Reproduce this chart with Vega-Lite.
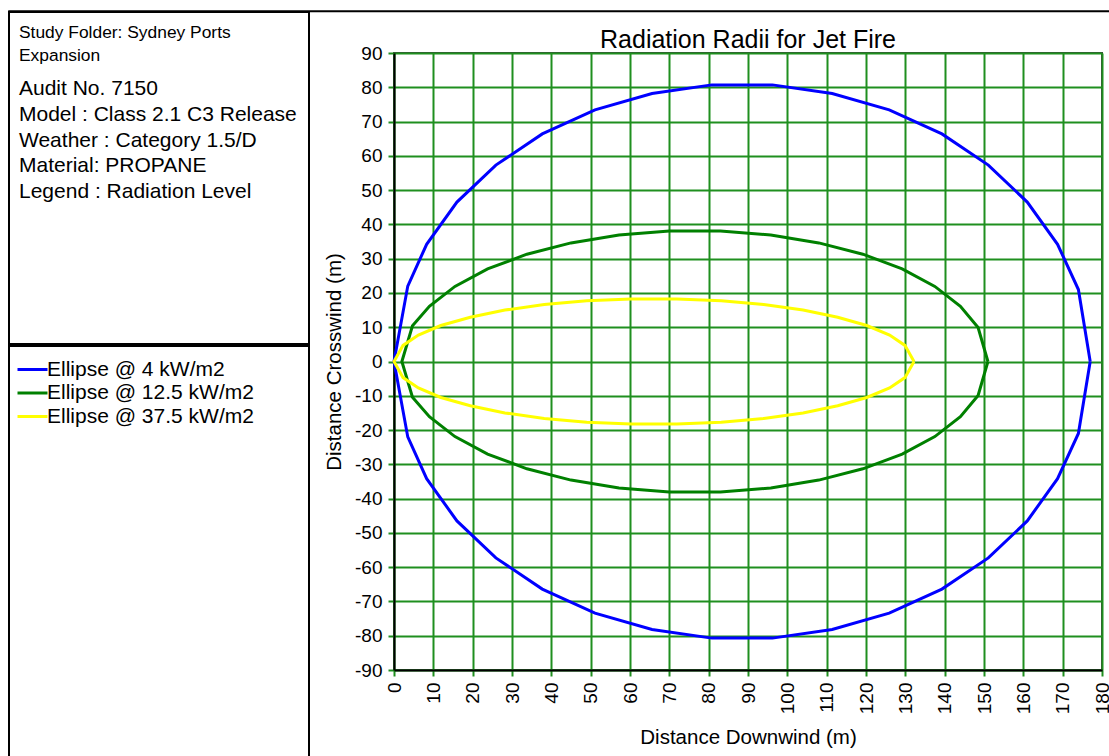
{
  "$schema": "https://vega.github.io/schema/vega-lite/v6.json",
  "padding": {"left": 8, "top": 10, "right": 0, "bottom": 0},
  "background": "white",
  "config": {"font": "Liberation Sans", "view": {"stroke": null}},
  "spacing": 0,
  "bounds": "flush",
  "vconcat": [
    {
      "width": 1101,
      "height": 0.5,
      "view": {"stroke": "black", "strokeWidth": 1.5},
      "data": {"values": []},
      "mark": "point"
    },
    {
      "spacing": 13,
      "hconcat": [
        {
          "spacing": 0,
          "vconcat": [
            {
              "width": 300,
              "height": 332,
              "view": {"stroke": "black", "strokeWidth": 2},
              "layer": [
                {
                  "data": {"values": [
                    {"t": "Study Folder: Sydney Ports", "n": 1},
                    {"t": "Expansion", "n": 2}
                  ]},
                  "mark": {"type": "text", "align": "left", "baseline": "middle", "fontSize": 17.4, "dx": 10, "color": "black"},
                  "encoding": {
                    "x": {"datum": 0, "type": "quantitative", "scale": {"domain": [0, 1]}, "axis": null},
                    "y": {"field": "n", "type": "quantitative", "scale": {"domain": [0.087, 14.52], "reverse": true, "nice": false, "zero": false}, "axis": null},
                    "text": {"field": "t"}
                  }
                },
                {
                  "data": {"values": [
                    {"t": "Audit No. 7150", "n": 1},
                    {"t": "Model : Class 2.1 C3 Release", "n": 2},
                    {"t": "Weather : Category 1.5/D", "n": 3},
                    {"t": "Material: PROPANE", "n": 4},
                    {"t": "Legend : Radiation Level", "n": 5}
                  ]},
                  "mark": {"type": "text", "align": "left", "baseline": "middle", "fontSize": 21, "dx": 10, "color": "black"},
                  "encoding": {
                    "x": {"datum": 0, "type": "quantitative", "scale": {"domain": [0, 1]}, "axis": null},
                    "y": {"field": "n", "type": "quantitative", "scale": {"domain": [-1.99, 10.9], "reverse": true, "nice": false, "zero": false}, "axis": null},
                    "text": {"field": "t"}
                  }
                }
              ],
              "resolve": {"scale": {"y": "independent"}}
            },
            {
              "width": 300,
              "height": 414,
              "view": {"stroke": "black", "strokeWidth": 2},
              "data": {"values": []},
              "mark": "point"
            }
          ]
        },
        {
          "spacing": 0,
          "bounds": "flush",
          "vconcat": [
            {
              "width": 708,
              "height": 41,
              "data": {"values": [{"t": "Radiation Radii for Jet Fire"}]},
              "mark": {"type": "text", "fontSize": 25, "baseline": "middle", "dy": 7, "color": "black"},
              "encoding": {"text": {"field": "t"}}
            },
            {
              "width": 708,
              "height": 617,
              "view": {"stroke": "#404040", "strokeWidth": 2},
              "data": {"values": [
                {"s": "Ellipse @ 4 kW/m2", "i": 0, "x": 177.0, "y": 0},
                {"s": "Ellipse @ 4 kW/m2", "i": 1, "x": 174.0, "y": 21.0},
                {"s": "Ellipse @ 4 kW/m2", "i": 2, "x": 168.7, "y": 34.2},
                {"s": "Ellipse @ 4 kW/m2", "i": 3, "x": 161.0, "y": 46.5},
                {"s": "Ellipse @ 4 kW/m2", "i": 4, "x": 151.1, "y": 57.3},
                {"s": "Ellipse @ 4 kW/m2", "i": 5, "x": 139.3, "y": 66.4},
                {"s": "Ellipse @ 4 kW/m2", "i": 6, "x": 125.9, "y": 73.4},
                {"s": "Ellipse @ 4 kW/m2", "i": 7, "x": 111.4, "y": 78.2},
                {"s": "Ellipse @ 4 kW/m2", "i": 8, "x": 96.2, "y": 80.7},
                {"s": "Ellipse @ 4 kW/m2", "i": 9, "x": 80.8, "y": 80.7},
                {"s": "Ellipse @ 4 kW/m2", "i": 10, "x": 65.6, "y": 78.2},
                {"s": "Ellipse @ 4 kW/m2", "i": 11, "x": 51.1, "y": 73.4},
                {"s": "Ellipse @ 4 kW/m2", "i": 12, "x": 37.7, "y": 66.4},
                {"s": "Ellipse @ 4 kW/m2", "i": 13, "x": 25.9, "y": 57.3},
                {"s": "Ellipse @ 4 kW/m2", "i": 14, "x": 16.0, "y": 46.5},
                {"s": "Ellipse @ 4 kW/m2", "i": 15, "x": 8.3, "y": 34.2},
                {"s": "Ellipse @ 4 kW/m2", "i": 16, "x": 3.5, "y": 22.0},
                {"s": "Ellipse @ 4 kW/m2", "i": 17, "x": 0, "y": 0},
                {"s": "Ellipse @ 4 kW/m2", "i": 18, "x": 3.5, "y": -22.0},
                {"s": "Ellipse @ 4 kW/m2", "i": 19, "x": 8.3, "y": -34.2},
                {"s": "Ellipse @ 4 kW/m2", "i": 20, "x": 16.0, "y": -46.5},
                {"s": "Ellipse @ 4 kW/m2", "i": 21, "x": 25.9, "y": -57.3},
                {"s": "Ellipse @ 4 kW/m2", "i": 22, "x": 37.7, "y": -66.4},
                {"s": "Ellipse @ 4 kW/m2", "i": 23, "x": 51.1, "y": -73.4},
                {"s": "Ellipse @ 4 kW/m2", "i": 24, "x": 65.6, "y": -78.2},
                {"s": "Ellipse @ 4 kW/m2", "i": 25, "x": 80.8, "y": -80.7},
                {"s": "Ellipse @ 4 kW/m2", "i": 26, "x": 96.2, "y": -80.7},
                {"s": "Ellipse @ 4 kW/m2", "i": 27, "x": 111.4, "y": -78.2},
                {"s": "Ellipse @ 4 kW/m2", "i": 28, "x": 125.9, "y": -73.4},
                {"s": "Ellipse @ 4 kW/m2", "i": 29, "x": 139.3, "y": -66.4},
                {"s": "Ellipse @ 4 kW/m2", "i": 30, "x": 151.1, "y": -57.3},
                {"s": "Ellipse @ 4 kW/m2", "i": 31, "x": 161.0, "y": -46.5},
                {"s": "Ellipse @ 4 kW/m2", "i": 32, "x": 168.7, "y": -34.2},
                {"s": "Ellipse @ 4 kW/m2", "i": 33, "x": 174.0, "y": -21.0},
                {"s": "Ellipse @ 4 kW/m2", "i": 34, "x": 177.0, "y": 0},
                {"s": "Ellipse @ 12.5 kW/m2", "i": 0, "x": 151.0, "y": 0},
                {"s": "Ellipse @ 12.5 kW/m2", "i": 1, "x": 148.5, "y": 9.9},
                {"s": "Ellipse @ 12.5 kW/m2", "i": 2, "x": 144.0, "y": 16.1},
                {"s": "Ellipse @ 12.5 kW/m2", "i": 3, "x": 137.5, "y": 21.9},
                {"s": "Ellipse @ 12.5 kW/m2", "i": 4, "x": 129.2, "y": 27.0},
                {"s": "Ellipse @ 12.5 kW/m2", "i": 5, "x": 119.2, "y": 31.3},
                {"s": "Ellipse @ 12.5 kW/m2", "i": 6, "x": 108.0, "y": 34.6},
                {"s": "Ellipse @ 12.5 kW/m2", "i": 7, "x": 95.8, "y": 36.9},
                {"s": "Ellipse @ 12.5 kW/m2", "i": 8, "x": 83.0, "y": 38.1},
                {"s": "Ellipse @ 12.5 kW/m2", "i": 9, "x": 70.0, "y": 38.1},
                {"s": "Ellipse @ 12.5 kW/m2", "i": 10, "x": 57.2, "y": 36.9},
                {"s": "Ellipse @ 12.5 kW/m2", "i": 11, "x": 45.0, "y": 34.6},
                {"s": "Ellipse @ 12.5 kW/m2", "i": 12, "x": 33.8, "y": 31.3},
                {"s": "Ellipse @ 12.5 kW/m2", "i": 13, "x": 23.8, "y": 27.0},
                {"s": "Ellipse @ 12.5 kW/m2", "i": 14, "x": 15.5, "y": 21.9},
                {"s": "Ellipse @ 12.5 kW/m2", "i": 15, "x": 9.0, "y": 16.1},
                {"s": "Ellipse @ 12.5 kW/m2", "i": 16, "x": 4.7, "y": 10.4},
                {"s": "Ellipse @ 12.5 kW/m2", "i": 17, "x": 2.0, "y": 0},
                {"s": "Ellipse @ 12.5 kW/m2", "i": 18, "x": 4.7, "y": -10.4},
                {"s": "Ellipse @ 12.5 kW/m2", "i": 19, "x": 9.0, "y": -16.1},
                {"s": "Ellipse @ 12.5 kW/m2", "i": 20, "x": 15.5, "y": -21.9},
                {"s": "Ellipse @ 12.5 kW/m2", "i": 21, "x": 23.8, "y": -27.0},
                {"s": "Ellipse @ 12.5 kW/m2", "i": 22, "x": 33.8, "y": -31.3},
                {"s": "Ellipse @ 12.5 kW/m2", "i": 23, "x": 45.0, "y": -34.6},
                {"s": "Ellipse @ 12.5 kW/m2", "i": 24, "x": 57.2, "y": -36.9},
                {"s": "Ellipse @ 12.5 kW/m2", "i": 25, "x": 70.0, "y": -38.1},
                {"s": "Ellipse @ 12.5 kW/m2", "i": 26, "x": 83.0, "y": -38.1},
                {"s": "Ellipse @ 12.5 kW/m2", "i": 27, "x": 95.8, "y": -36.9},
                {"s": "Ellipse @ 12.5 kW/m2", "i": 28, "x": 108.0, "y": -34.6},
                {"s": "Ellipse @ 12.5 kW/m2", "i": 29, "x": 119.2, "y": -31.3},
                {"s": "Ellipse @ 12.5 kW/m2", "i": 30, "x": 129.2, "y": -27.0},
                {"s": "Ellipse @ 12.5 kW/m2", "i": 31, "x": 137.5, "y": -21.9},
                {"s": "Ellipse @ 12.5 kW/m2", "i": 32, "x": 144.0, "y": -16.1},
                {"s": "Ellipse @ 12.5 kW/m2", "i": 33, "x": 148.5, "y": -9.9},
                {"s": "Ellipse @ 12.5 kW/m2", "i": 34, "x": 151.0, "y": 0},
                {"s": "Ellipse @ 37.5 kW/m2", "i": 0, "x": 132.2, "y": 0},
                {"s": "Ellipse @ 37.5 kW/m2", "i": 1, "x": 129.9, "y": 4.7},
                {"s": "Ellipse @ 37.5 kW/m2", "i": 2, "x": 126.0, "y": 7.7},
                {"s": "Ellipse @ 37.5 kW/m2", "i": 3, "x": 120.2, "y": 10.5},
                {"s": "Ellipse @ 37.5 kW/m2", "i": 4, "x": 112.8, "y": 12.9},
                {"s": "Ellipse @ 37.5 kW/m2", "i": 5, "x": 104.0, "y": 15.0},
                {"s": "Ellipse @ 37.5 kW/m2", "i": 6, "x": 94.0, "y": 16.6},
                {"s": "Ellipse @ 37.5 kW/m2", "i": 7, "x": 83.2, "y": 17.7},
                {"s": "Ellipse @ 37.5 kW/m2", "i": 8, "x": 71.9, "y": 18.2},
                {"s": "Ellipse @ 37.5 kW/m2", "i": 9, "x": 60.3, "y": 18.2},
                {"s": "Ellipse @ 37.5 kW/m2", "i": 10, "x": 49.0, "y": 17.7},
                {"s": "Ellipse @ 37.5 kW/m2", "i": 11, "x": 38.2, "y": 16.6},
                {"s": "Ellipse @ 37.5 kW/m2", "i": 12, "x": 28.2, "y": 15.0},
                {"s": "Ellipse @ 37.5 kW/m2", "i": 13, "x": 19.4, "y": 12.9},
                {"s": "Ellipse @ 37.5 kW/m2", "i": 14, "x": 11.9, "y": 10.5},
                {"s": "Ellipse @ 37.5 kW/m2", "i": 15, "x": 6.2, "y": 7.7},
                {"s": "Ellipse @ 37.5 kW/m2", "i": 16, "x": 2.3, "y": 4.7},
                {"s": "Ellipse @ 37.5 kW/m2", "i": 17, "x": 0, "y": 0},
                {"s": "Ellipse @ 37.5 kW/m2", "i": 18, "x": 2.3, "y": -4.7},
                {"s": "Ellipse @ 37.5 kW/m2", "i": 19, "x": 6.2, "y": -7.7},
                {"s": "Ellipse @ 37.5 kW/m2", "i": 20, "x": 11.9, "y": -10.5},
                {"s": "Ellipse @ 37.5 kW/m2", "i": 21, "x": 19.4, "y": -12.9},
                {"s": "Ellipse @ 37.5 kW/m2", "i": 22, "x": 28.2, "y": -15.0},
                {"s": "Ellipse @ 37.5 kW/m2", "i": 23, "x": 38.2, "y": -16.6},
                {"s": "Ellipse @ 37.5 kW/m2", "i": 24, "x": 49.0, "y": -17.7},
                {"s": "Ellipse @ 37.5 kW/m2", "i": 25, "x": 60.3, "y": -18.2},
                {"s": "Ellipse @ 37.5 kW/m2", "i": 26, "x": 71.9, "y": -18.2},
                {"s": "Ellipse @ 37.5 kW/m2", "i": 27, "x": 83.2, "y": -17.7},
                {"s": "Ellipse @ 37.5 kW/m2", "i": 28, "x": 94.0, "y": -16.6},
                {"s": "Ellipse @ 37.5 kW/m2", "i": 29, "x": 104.0, "y": -15.0},
                {"s": "Ellipse @ 37.5 kW/m2", "i": 30, "x": 112.8, "y": -12.9},
                {"s": "Ellipse @ 37.5 kW/m2", "i": 31, "x": 120.2, "y": -10.5},
                {"s": "Ellipse @ 37.5 kW/m2", "i": 32, "x": 126.0, "y": -7.7},
                {"s": "Ellipse @ 37.5 kW/m2", "i": 33, "x": 129.9, "y": -4.7},
                {"s": "Ellipse @ 37.5 kW/m2", "i": 34, "x": 132.2, "y": 0}
              ]},
              "mark": {"type": "line", "strokeWidth": 3},
              "encoding": {
                "x": {
                  "field": "x", "type": "quantitative",
                  "scale": {"domain": [0, 180], "nice": false, "zero": false},
                  "axis": {
                    "title": "Distance Downwind (m)",
                    "values": [0, 10, 20, 30, 40, 50, 60, 70, 80, 90, 100, 110, 120, 130, 140, 150, 160, 170, 180],
                    "labelExpr": "'' + datum.value",
                    "labelAngle": -90, "labelAlign": "right", "labelBaseline": "middle",
                    "labelFontSize": 19, "labelColor": "black", "labelPadding": 6, "labelOverlap": false, "labelBound": false, "labelFlush": false,
                    "titleFontSize": 20.5, "titleFontWeight": "normal", "titleColor": "black", "titlePadding": 14,
                    "grid": true, "gridColor": "#1f8f1f", "gridWidth": 2, "gridOpacity": 1,
                    "tickColor": "#1f8f1f", "tickWidth": 2, "tickSize": 6,
                    "domainColor": "black", "domainWidth": 2
                  }
                },
                "y": {
                  "field": "y", "type": "quantitative",
                  "scale": {"domain": [-90, 90], "nice": false, "zero": false},
                  "axis": {
                    "title": "Distance Crosswind (m)",
                    "values": [-90, -80, -70, -60, -50, -40, -30, -20, -10, 0, 10, 20, 30, 40, 50, 60, 70, 80, 90],
                    "labelExpr": "'' + datum.value",
                    "labelFontSize": 19, "labelColor": "black", "labelPadding": 6, "labelOverlap": false, "labelBound": false, "labelFlush": false,
                    "titleFontSize": 20.5, "titleFontWeight": "normal", "titleColor": "black", "titlePadding": 10,
                    "grid": true, "gridColor": "#1f8f1f", "gridWidth": 2, "gridOpacity": 1,
                    "tickColor": "#1f8f1f", "tickWidth": 2, "tickSize": 6,
                    "domainColor": "black", "domainWidth": 2
                  }
                },
                "color": {
                  "field": "s", "type": "nominal",
                  "scale": {"domain": ["Ellipse @ 4 kW/m2", "Ellipse @ 12.5 kW/m2", "Ellipse @ 37.5 kW/m2"], "range": ["#0000ff", "#008000", "#ffff00"]},
                  "legend": {
                    "orient": "none", "legendX": 12, "legendY": 347, "title": null,
                    "symbolType": "M-1.5,0H1.5", "symbolSize": 400, "symbolStrokeWidth": 3,
                    "labelFontSize": 21, "labelColor": "black", "labelOffset": 3, "labelLimit": 400, "rowPadding": 1.5, "padding": 0
                  }
                },
                "order": {"field": "i", "type": "quantitative"}
              }
            }
          ]
        }
      ]
    }
  ]
}
